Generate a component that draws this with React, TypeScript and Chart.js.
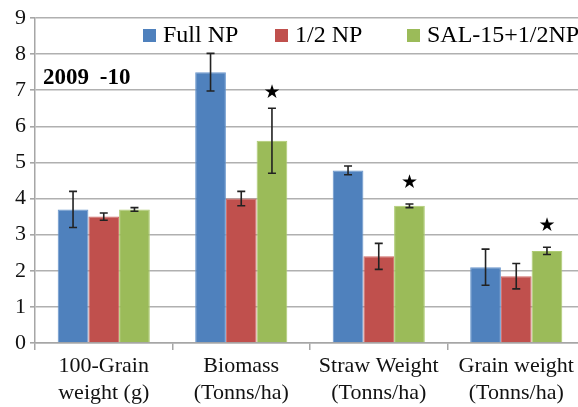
import React, { useEffect, useRef } from "react";
import { Chart, registerables } from "chart.js";

Chart.register(...registerables);

const categories: string[][] = [
  ["100-Grain", "weight (g)"],
  ["Biomass", "(Tonns/ha)"],
  ["Straw Weight", "(Tonns/ha)"],
  ["Grain weight", "(Tonns/ha)"],
];
const seriesNames = ["Full NP", "1/2 NP", "SAL-15+1/2NP"];
const fullNP = [3.7, 7.5, 4.78, 2.1];
const halfNP = [3.5, 4.0, 2.4, 1.85];
const sal15 = [3.7, 5.6, 3.8, 2.55];
const fullNPErr = [0.5, 0.52, 0.12, 0.5];
const halfNPErr = [0.1, 0.2, 0.36, 0.35];
const sal15Err = [0.05, 0.9, 0.05, 0.1];
const starValues: (number | null)[] = [null, 7.0, 4.5, 3.32];
const yTicks = [0, 1, 2, 3, 4, 5, 6, 7, 8, 9];
const yearLabel = "2009 -10";

const colors = ["#4F81BD", "#C0504D", "#9BBB59"];
const borders = ["#6a96cc", "#d06a67", "#aecb72"];
const SERIF = '"Liberation Serif"';

export default function App() {
  const ref = useRef<HTMLCanvasElement | null>(null);

  useEffect(() => {
    document.body.style.margin = "0";
    const canvas = ref.current;
    if (!canvas) return;
    const values = [fullNP, halfNP, sal15];
    const errs = [fullNPErr, halfNPErr, sal15Err];

    const errorPlugin = {
      id: "errbars",
      afterDatasetsDraw(c: any) {
        const ctx = c.ctx;
        const y = c.scales.y;
        ctx.save();
        ctx.strokeStyle = "#222";
        ctx.lineWidth = 1.6;
        values.forEach((vals, di) => {
          const meta = c.getDatasetMeta(di);
          vals.forEach((v, j) => {
            const el = meta.data[j];
            if (!el) return;
            const x = el.x;
            const yt = y.getPixelForValue(v + errs[di][j]);
            const yb = y.getPixelForValue(v - errs[di][j]);
            ctx.beginPath();
            ctx.moveTo(x, yt);
            ctx.lineTo(x, yb);
            ctx.moveTo(x - 4, yt);
            ctx.lineTo(x + 4, yt);
            ctx.moveTo(x - 4, yb);
            ctx.lineTo(x + 4, yb);
            ctx.stroke();
          });
        });
        const meta2 = c.getDatasetMeta(2);
        ctx.fillStyle = "#000";
        ctx.font = '19px "DejaVu Sans"';
        ctx.textAlign = "center";
        ctx.textBaseline = "middle";
        starValues.forEach((s, j) => {
          if (s == null) return;
          const el = meta2.data[j];
          ctx.fillText("\u2605", el.x, y.getPixelForValue(s) + 2.5);
        });
        ctx.font = "bold 23px " + SERIF;
        ctx.textAlign = "left";
        ctx.textBaseline = "alphabetic";
        try {
          (ctx as any).wordSpacing = "5px";
        } catch (e) {}
        ctx.fillText(yearLabel, 43, 84);
        try {
          (ctx as any).wordSpacing = "0px";
        } catch (e) {}
        const legendX = [143, 275, 407];
        ctx.font = "24px " + SERIF;
        seriesNames.forEach((name, i) => {
          ctx.fillStyle = colors[i];
          ctx.fillRect(legendX[i], 29, 13, 13);
          ctx.fillStyle = "#000";
          ctx.fillText(name, legendX[i] + 20, 42);
        });
        ctx.restore();
      },
    };

    const chart = new Chart(canvas, {
      type: "bar",
      data: {
        labels: categories,
        datasets: seriesNames.map((name, i) => ({
          label: name,
          data: values[i],
          backgroundColor: colors[i],
          borderColor: borders[i],
          borderWidth: 1,
          categoryPercentage: 0.67,
          barPercentage: 1.0,
        })),
      },
      options: {
        responsive: false,
        animation: false,
        font: { family: SERIF },
        layout: { padding: { top: 18, right: 7, left: 0, bottom: 0 } },
        plugins: {
          legend: { display: false },
          tooltip: { enabled: false },
        },
        scales: {
          x: {
            grid: {
              display: true,
              drawOnChartArea: false,
              drawTicks: true,
              tickLength: 7,
              tickColor: "#a6a6a6",
              lineWidth: 1.5,
              offset: true,
            },
            border: { display: true, color: "#a6a6a6", width: 1.5 },
            ticks: {
              color: "#111",
              font: { family: SERIF, size: 22, lineHeight: 1.2 },
              padding: 3.5,
              maxRotation: 0,
              autoSkip: false,
            },
            afterFit: (s: any) => {
              s.height = 64;
            },
          },
          y: {
            min: 0,
            max: 9,
            afterBuildTicks: (s: any) => {
              s.ticks = yTicks.map((v) => ({ value: v }));
            },
            grid: {
              color: "#b0b0b0",
              lineWidth: 1.6,
              tickLength: 5,
              tickColor: "#a6a6a6",
            },
            border: { display: true, color: "#a6a6a6", width: 1.5 },
            ticks: {
              color: "#111",
              font: { family: SERIF, size: 22 },
              padding: 4,
            },
            afterFit: (s: any) => {
              s.width = 35;
            },
          },
        },
      },
      plugins: [errorPlugin],
    });
    return () => chart.destroy();
  }, []);

  return (
    <div
      style={{
        position: "fixed",
        left: 0,
        top: 0,
        width: 578,
        height: 407,
        overflow: "hidden",
        background: "#fff",
      }}
    >
      <canvas ref={ref} width={592} height={407} style={{ display: "block" }} />
    </div>
  );
}
